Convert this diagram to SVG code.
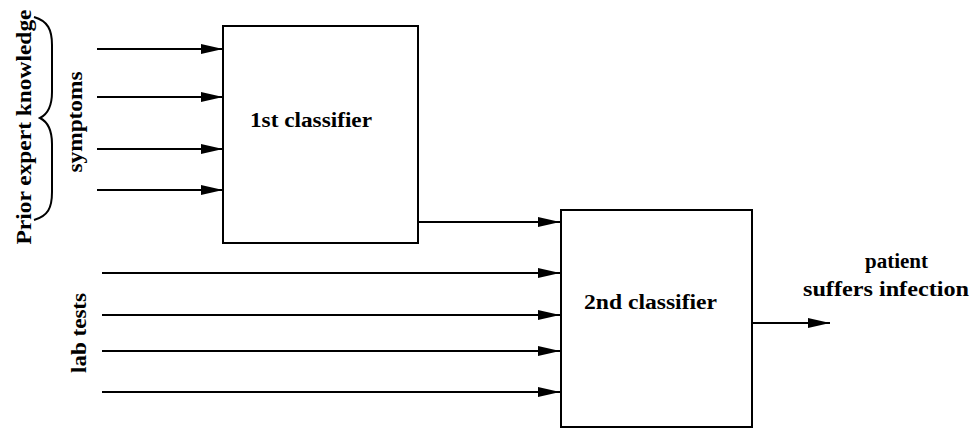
<svg xmlns="http://www.w3.org/2000/svg" width="971" height="429" viewBox="0 0 971 429">
  <style>
    .box { fill: #fff; stroke: #000; stroke-width: 2; }
    .wire { stroke: #000; stroke-width: 2; fill: none; }
    .lbl { font-family: "Liberation Serif", "DejaVu Serif", serif; font-weight: bold; fill: #000; }
  </style>
  <defs>
    <marker id="arrow" viewBox="0 0 22 10" refX="22" refY="5" markerWidth="22" markerHeight="10" markerUnits="userSpaceOnUse" orient="auto">
      <path d="M0,0 L22,5 L0,10 Z" fill="#000"/>
    </marker>
  </defs>
  <rect width="971" height="429" fill="#fff"/>

  <g id="classifier1">
    <rect class="box" x="223" y="26" width="195" height="217"/>
    <text class="lbl" x="250" y="127" font-size="20" textLength="122" lengthAdjust="spacingAndGlyphs">1st classifier</text>
  </g>

  <g id="classifier2">
    <rect class="box" x="561" y="210" width="191" height="217"/>
    <text class="lbl" x="584" y="309" font-size="20" textLength="133" lengthAdjust="spacingAndGlyphs">2nd classifier</text>
  </g>

  <g id="symptoms-label">
    <text class="lbl" font-size="20" text-anchor="middle" textLength="101" lengthAdjust="spacingAndGlyphs" transform="translate(82,122) rotate(-90)">symptoms</text>
  </g>

  <g id="prior-knowledge">
    <text class="lbl" font-size="21" text-anchor="middle" textLength="235" lengthAdjust="spacingAndGlyphs" transform="translate(31,127) rotate(-90)">Prior expert knowledge</text>
    <path class="wire" stroke-width="1.8" d="M34,17 C48,21 52,30 52,45 L52,92 C52,106 48,114 40,118 C48,122 52,130 52,144 L52,192 C52,208 48,216 34,220"/>
  </g>

  <g id="lab-tests-label">
    <text class="lbl" font-size="20" text-anchor="middle" textLength="80" lengthAdjust="spacingAndGlyphs" transform="translate(86,333) rotate(-90)">lab tests</text>
  </g>

  <g id="outcome">
    <text class="lbl" font-size="20" x="865" y="268" textLength="63" lengthAdjust="spacingAndGlyphs">patient</text>
    <text class="lbl" font-size="20" x="803" y="296" textLength="166" lengthAdjust="spacingAndGlyphs">suffers infection</text>
  </g>

  <g id="connectors">
    <line class="wire" x1="97" y1="49" x2="223" y2="49" marker-end="url(#arrow)"/>
    <line class="wire" x1="97" y1="97" x2="223" y2="97" marker-end="url(#arrow)"/>
    <line class="wire" x1="97" y1="149" x2="223" y2="149" marker-end="url(#arrow)"/>
    <line class="wire" x1="97" y1="190" x2="223" y2="190" marker-end="url(#arrow)"/>
    <line class="wire" x1="418" y1="222" x2="560" y2="222" marker-end="url(#arrow)"/>
    <line class="wire" x1="102" y1="273" x2="560" y2="273" marker-end="url(#arrow)"/>
    <line class="wire" x1="102" y1="315" x2="560" y2="315" marker-end="url(#arrow)"/>
    <line class="wire" x1="102" y1="351" x2="560" y2="351" marker-end="url(#arrow)"/>
    <line class="wire" x1="102" y1="392" x2="560" y2="392" marker-end="url(#arrow)"/>
    <line class="wire" x1="752" y1="323" x2="830" y2="323" marker-end="url(#arrow)"/>
  </g>
</svg>
